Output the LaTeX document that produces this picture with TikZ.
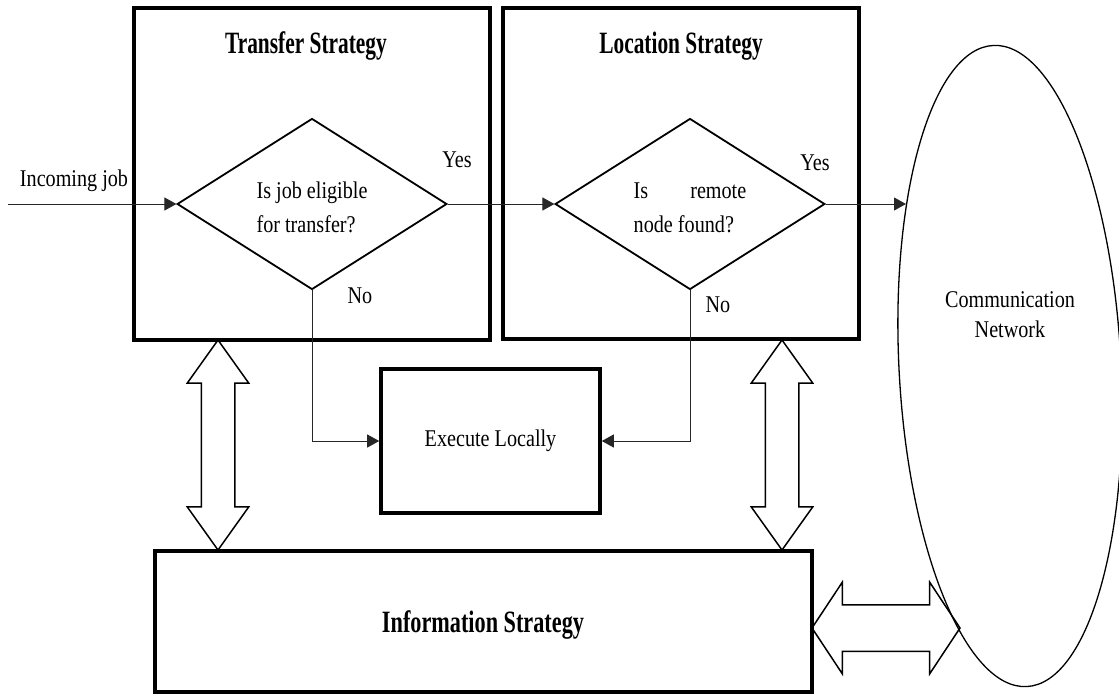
\documentclass[tikz,border=0pt]{standalone}
\usepackage{fontspec}
\setmainfont{Liberation Serif}
\usepackage{tikz}
\usetikzlibrary{arrows.meta,shapes}
\usetikzlibrary{positioning}
\usetikzlibrary{calc}
\tikzset{
    strategy/.style={draw=black, line width=4pt, inner sep=0pt},
    decision/.style={diamond, aspect=2, draw=black, line width=1.8pt, inner sep=0pt, align=left,
        xscale=.84, minimum width=321pt, minimum height=171pt,
        font=\fontsize{24}{34}\selectfont},
    note/.style={font=\fontsize{24}{30}\selectfont, xscale=.84, inner sep=0pt},
    heading/.style={font=\bfseries\fontsize{31}{36}\selectfont, xscale=.69, inner sep=0pt},
    flow/.style={draw=black!85, line width=1pt, ->},
    twoway/.style={double arrow, draw=black, line width=1.5pt, inner xsep=0pt},
}
\begin{document}
\begin{tikzpicture}[x=1pt, y=-1pt, >={Triangle[length=12pt,width=13pt]}]
	\useasboundingbox (0,0) rectangle (1119,694);
	% the two strategy boxes
	\node[strategy, minimum width=356pt, minimum height=332pt] (transfer) at (312,174) {};
	\node[strategy, minimum width=356pt, minimum height=331pt] (location) at (681,173.5) {};
	\node[heading, anchor=base] (transfertitle) at (306,53) {Transfer Strategy};
	\node[heading, anchor=base] (locationtitle) at (681,53) {Location Strategy};
	\node[decision] (eligible) at (312,204) {\rule{0pt}{24pt}Is job eligible\\for transfer?};
	\node[decision] (remote) at (690,204) {\rule{0pt}{24pt}Is\hspace{50pt}remote\\node found?};
	\node[strategy, note, minimum width=261pt, minimum height=144pt] (local) at (490.5,441) {Execute Locally};
	\node[strategy, minimum width=657pt, minimum height=141pt] (info) at (483.5,621.5) {};
	\node[heading, xscale=1.04, anchor=base] (infotitle) at (483,632) {Information Strategy};
	\node[ellipse, draw=black, line width=1.3pt, rotate=3, minimum width=222pt, minimum height=642pt, inner sep=0pt] (network) at (1010,366) {};
	\node[note, align=center] (networktext) at (1010,315) {Communication\\Network};
	% labels
	\node[note, anchor=base] (injob) at (74,186) {Incoming job};
	\node[note, anchor=base] (yes1) at (457,167) {Yes};
	\node[note, anchor=base] (yes2) at (815,170) {Yes};
	\node[note, anchor=base] (no1) at (360,303) {No};
	\node[note, anchor=base] (no2) at (718,312) {No};
	\coordinate (start) at (8,204);
	\coordinate (netin) at (906,204);
	\draw[flow] (start) -- (eligible);
	\draw[flow] (eligible) -- (remote);
	\draw[flow] (remote) -- (netin);
	\draw[flow] (eligible.south) |- (local.west);
	\draw[flow] (remote.south) |- (local.east);
	% block arrows
	\node[twoway, rotate=90, minimum height=210pt, minimum width=60pt, inner ysep=16pt,
		double arrow head extend=14pt, double arrow tip angle=71] (upleft) at (218,445) {};
	\node[twoway, rotate=90, minimum height=210pt, minimum width=60pt, inner ysep=16pt,
		double arrow head extend=14pt, double arrow tip angle=71] (upright) at (782,445) {};
	\node[twoway, minimum height=148pt, minimum width=90pt, inner ysep=22.5pt,
		double arrow head extend=22.5pt, double arrow tip angle=113] (sideways) at (886,628) {};
\end{tikzpicture}
\end{document}
